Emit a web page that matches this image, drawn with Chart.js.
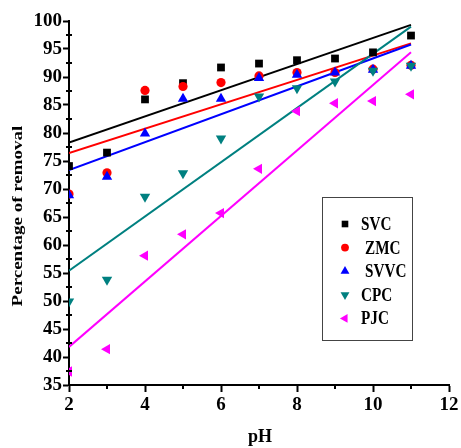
<!DOCTYPE html>
<html><head><meta charset="utf-8">
<script src="https://cdn.jsdelivr.net/npm/chart.js@4/dist/chart.umd.min.js"></script>
<style>html,body{margin:0;padding:0;background:#fff}#wrap{width:461px;height:448px;position:relative}</style>
</head><body><div id="wrap"><canvas id="c"></canvas></div>
<script>
// ---- data ----
const pH = [2, 3, 4, 5, 6, 7, 8, 9, 10, 11];
const SVC  = [74.1, 76.5, 86.0, 88.9, 91.7, 92.4, 93.0, 93.3, 94.4, 97.4];
const ZMC  = [69.1, 72.9, 87.6, 88.3, 89.0, 90.2, 90.8, 90.8, 91.4, 92.1];
const SVVC = [68.9, 72.2, 79.9, 86.1, 86.1, 89.8, 90.4, 90.8, 91.3, 92.0];
const CPC  = [49.9, 53.8, 68.6, 72.8, 79.0, 86.5, 88.0, 89.2, 91.1, 92.0];
const PJC  = [37.4, 41.4, 58.1, 61.9, 65.7, 73.6, 83.9, 85.3, 85.7, 86.9];
// linear-fit lines (end points)
const fitX = [2, 11];
const SVC_fit  = [78.3, 99.3];
const ZMC_fit  = [76.4, 96.0];
const SVVC_fit = [73.4, 95.8];
const CPC_fit  = [55.4, 99.0];
const PJC_fit  = [41.8, 94.4];
// tick labels
const xTicks = [2, 4, 6, 8, 10, 12];
const xMinor = [3, 5, 7, 9, 11];
const yTicks = [35, 40, 45, 50, 55, 60, 65, 70, 75, 80, 85, 90, 95, 100];
const yMinor = [37.5, 42.5, 47.5, 52.5, 57.5, 62.5, 67.5, 72.5, 77.5, 82.5, 87.5, 92.5, 97.5];
const names = ['SVC', 'ZMC', 'SVVC', 'CPC', 'PJC'];
const xTitle = 'pH';
const yTitle = 'Percentage of removal';

const colors = ['#000000', '#ff0000', '#0000ff', '#008080', '#ff00ff'];
const styles = [
  {pointStyle: 'rect', radius: 5.5, rotation: 0},
  {pointStyle: 'circle', radius: 4.6, rotation: 0},
  {pointStyle: 'triangle', radius: 6, rotation: 0},
  {pointStyle: 'triangle', radius: 6, rotation: 180},
  {pointStyle: 'triangle', radius: 6, rotation: 270}
];
const series = [SVC, ZMC, SVVC, CPC, PJC];
const fits = [SVC_fit, ZMC_fit, SVVC_fit, CPC_fit, PJC_fit];
const FONT = '"Liberation Serif", "Times New Roman", serif';

const datasets = [];
series.forEach((s, i) => {
  datasets.push({
    label: names[i],
    data: pH.map((x, k) => ({x, y: s[k]})),
    showLine: false,
    backgroundColor: colors[i],
    borderColor: colors[i],
    borderWidth: 0,
    pointStyle: styles[i].pointStyle,
    pointRadius: styles[i].radius,
    pointRotation: styles[i].rotation,
    order: series.length - i
  });
});
fits.forEach((f, i) => {
  datasets.push({
    label: names[i] + ' fit',
    data: fitX.map((x, k) => ({x, y: f[k]})),
    showLine: true,
    borderColor: colors[i],
    borderWidth: 2,
    pointRadius: 0,
    fill: false,
    order: 20 - i
  });
});

const extras = {
  id: 'extras',
  afterDraw(chart) {
    const ctx = chart.ctx;
    const xs = chart.scales.x, ys = chart.scales.y;
    const area = chart.chartArea;
    ctx.save();
    // minor ticks
    ctx.strokeStyle = '#000';
    ctx.lineWidth = 2;
    xMinor.forEach(v => {
      const px = Math.round(xs.getPixelForValue(v));
      ctx.beginPath(); ctx.moveTo(px, area.bottom); ctx.lineTo(px, area.bottom + 4); ctx.stroke();
    });
    yMinor.forEach(v => {
      const py = Math.round(ys.getPixelForValue(v));
      ctx.beginPath(); ctx.moveTo(area.left - 3, py); ctx.lineTo(area.left + 3, py); ctx.stroke();
    });
    // axis titles
    ctx.fillStyle = '#000';
    ctx.font = 'bold 18px ' + FONT;
    ctx.textAlign = 'center';
    ctx.textBaseline = 'middle';
    ctx.fillText(xTitle, (area.left + area.right) / 2 + 1, 437);
    ctx.save();
    ctx.translate(18, 216);
    ctx.scale(0.78, 1);
    ctx.rotate(-Math.PI / 2);
    ctx.font = 'bold 19px ' + FONT;
    ctx.fillText(yTitle, 0, 0);
    ctx.restore();
    // legend box
    const bx = 322, by = 197, bw = 90, bh = 143;
    ctx.strokeStyle = '#444';
    ctx.lineWidth = 1;
    ctx.strokeRect(bx + 0.5, by + 0.5, bw, bh);
    names.forEach((n, i) => {
      const y = by + 27 + i * 23.6;
      ctx.fillStyle = colors[i];
      ctx.strokeStyle = colors[i];
      Chart.helpers.drawPoint(ctx, {pointStyle: styles[i].pointStyle, radius: styles[i].radius * 0.85, rotation: styles[i].rotation, borderWidth: 0}, bx + 23, y);
      ctx.fillStyle = '#000';
      ctx.save();
      const tx = bx + 39 + ((i === 1 || i === 2) ? 4 : 0);
      ctx.translate(tx, y + 1);
      ctx.scale(0.8, 1);
      ctx.font = 'bold 19px ' + FONT;
      ctx.textAlign = 'left';
      ctx.textBaseline = 'middle';
      ctx.fillText(n, 0, 0);
      ctx.restore();
    });
    ctx.restore();
  }
};

new Chart(document.getElementById('c'), {
  type: 'scatter',
  data: {datasets},
  options: {
    responsive: true,
    maintainAspectRatio: false,
    animation: false,
    layout: {padding: {left: 0, top: 21, right: 12, bottom: 0}},
    plugins: {legend: {display: false}, tooltip: {enabled: false}},
    scales: {
      x: {
        type: 'linear', min: 2, max: 12,
        afterBuildTicks: s => { s.ticks = xTicks.map(v => ({value: v})); },
        afterFit: s => { s.height = 63; },
        ticks: {color: '#000', font: {family: FONT, size: 19, weight: 'bold'}, padding: 2, maxRotation: 0},
        grid: {display: true, drawOnChartArea: false, drawTicks: true, tickLength: 7, tickWidth: 2, tickColor: '#000'},
        border: {display: true, color: '#000', width: 2}
      },
      y: {
        type: 'linear', min: 35, max: 100,
        afterBuildTicks: s => { s.ticks = yTicks.map(v => ({value: v})); },
        afterFit: s => { s.width = 69; },
        ticks: {color: '#000', font: {family: FONT, size: 19, weight: 'bold'}, padding: 1},
        grid: {display: true, drawOnChartArea: false, drawTicks: true, tickLength: 6, tickWidth: 2, tickColor: '#000'},
        border: {display: true, color: '#000', width: 2}
      }
    }
  },
  plugins: [extras]
});
</script>
</body></html>
